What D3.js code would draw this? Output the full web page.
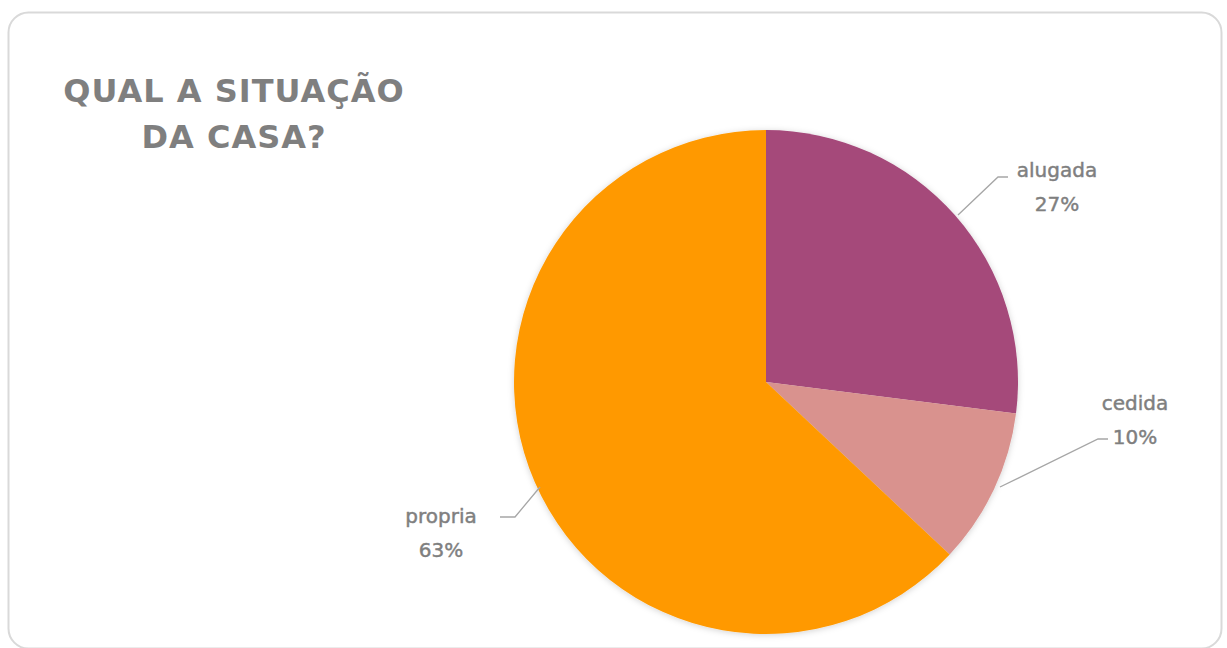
<!DOCTYPE html>
<html>
<head>
<meta charset="utf-8">
<script src="https://cdn.jsdelivr.net/npm/d3@7"></script>
<style>
html,body{margin:0;padding:0;background:#fff;}
svg{display:block;}
</style>
</head>
<body>
<svg id="chart" width="1227" height="648"></svg>
<script>
const categories = ["alugada", "cedida", "propria"];
const values = [27, 10, 63];
const colors = ["#A5487A", "#D9928E", "#FF9900"];
const titleLines = ["QUAL A SITUAÇÃO", "DA CASA?"];

const svg = d3.select("#chart");

const defs = svg.append("defs");
const f = defs.append("filter").attr("id","shadow").attr("x","-10%").attr("y","-10%").attr("width","120%").attr("height","120%");
f.append("feDropShadow").attr("dx",0).attr("dy",1).attr("stdDeviation",3).attr("flood-color","#000").attr("flood-opacity",0.18);

// card
svg.append("rect").attr("x",8.5).attr("y",12.5).attr("width",1213).attr("height",636)
  .attr("rx",20).attr("fill","#fff").attr("stroke","#d9d9d9").attr("stroke-width",2);

// title
svg.append("g").selectAll("text").data(titleLines).join("text")
  .attr("x",234).attr("y",(d,i)=>102+i*46)
  .attr("text-anchor","middle")
  .attr("font-family","DejaVu Sans, Verdana, sans-serif")
  .attr("font-weight","bold").attr("font-size",32)
  .attr("letter-spacing",1.0)
  .attr("fill","#7f7f7f").text(d=>d);

const cx = 766, cy = 382, r = 252;
const pie = d3.pie().sort(null).value(d=>d.v);
const arcs = pie(categories.map((c,i)=>({c, v: values[i], col: colors[i]})));
const arc = d3.arc().innerRadius(0).outerRadius(r);

const g = svg.append("g").attr("transform",`translate(${cx},${cy})`);
g.append("g").attr("filter","url(#shadow)").selectAll("path").data(arcs).join("path")
  .attr("d",arc).attr("fill",d=>d.data.col);

// labels with leader lines
const labelPos = {
  alugada: {x: 1057, y: 177, line: [[958-cx,215-cy],[998-cx,177-cy],[1008-cx,177-cy]]},
  cedida:  {x: 1135, y: 410, line: [[1000-cx,487-cy],[1098-cx,439-cy],[1108-cx,439-cy]]},
  propria: {x: 441, y: 523, line: [[540-cx,487-cy],[515-cx,517-cy],[500-cx,517-cy]]}
};
const lineGen = d3.line();
arcs.forEach(a=>{
  const lp = labelPos[a.data.c];
  g.append("path").attr("d",lineGen(lp.line)).attr("fill","none").attr("stroke","#a6a6a6").attr("stroke-width",1.3);
  const t = svg.append("text").attr("x",lp.x).attr("y",lp.y).attr("text-anchor","middle")
    .attr("font-family","DejaVu Sans, Verdana, sans-serif").attr("font-size",20)
    .attr("fill","#7f7f7f").attr("stroke","#7f7f7f").attr("stroke-width",0.45);
  t.append("tspan").attr("x",lp.x).attr("dy",0).text(a.data.c);
  t.append("tspan").attr("x",lp.x).attr("dy",34).text(Math.round(a.data.v)+"%");
});
</script>
</body>
</html>
